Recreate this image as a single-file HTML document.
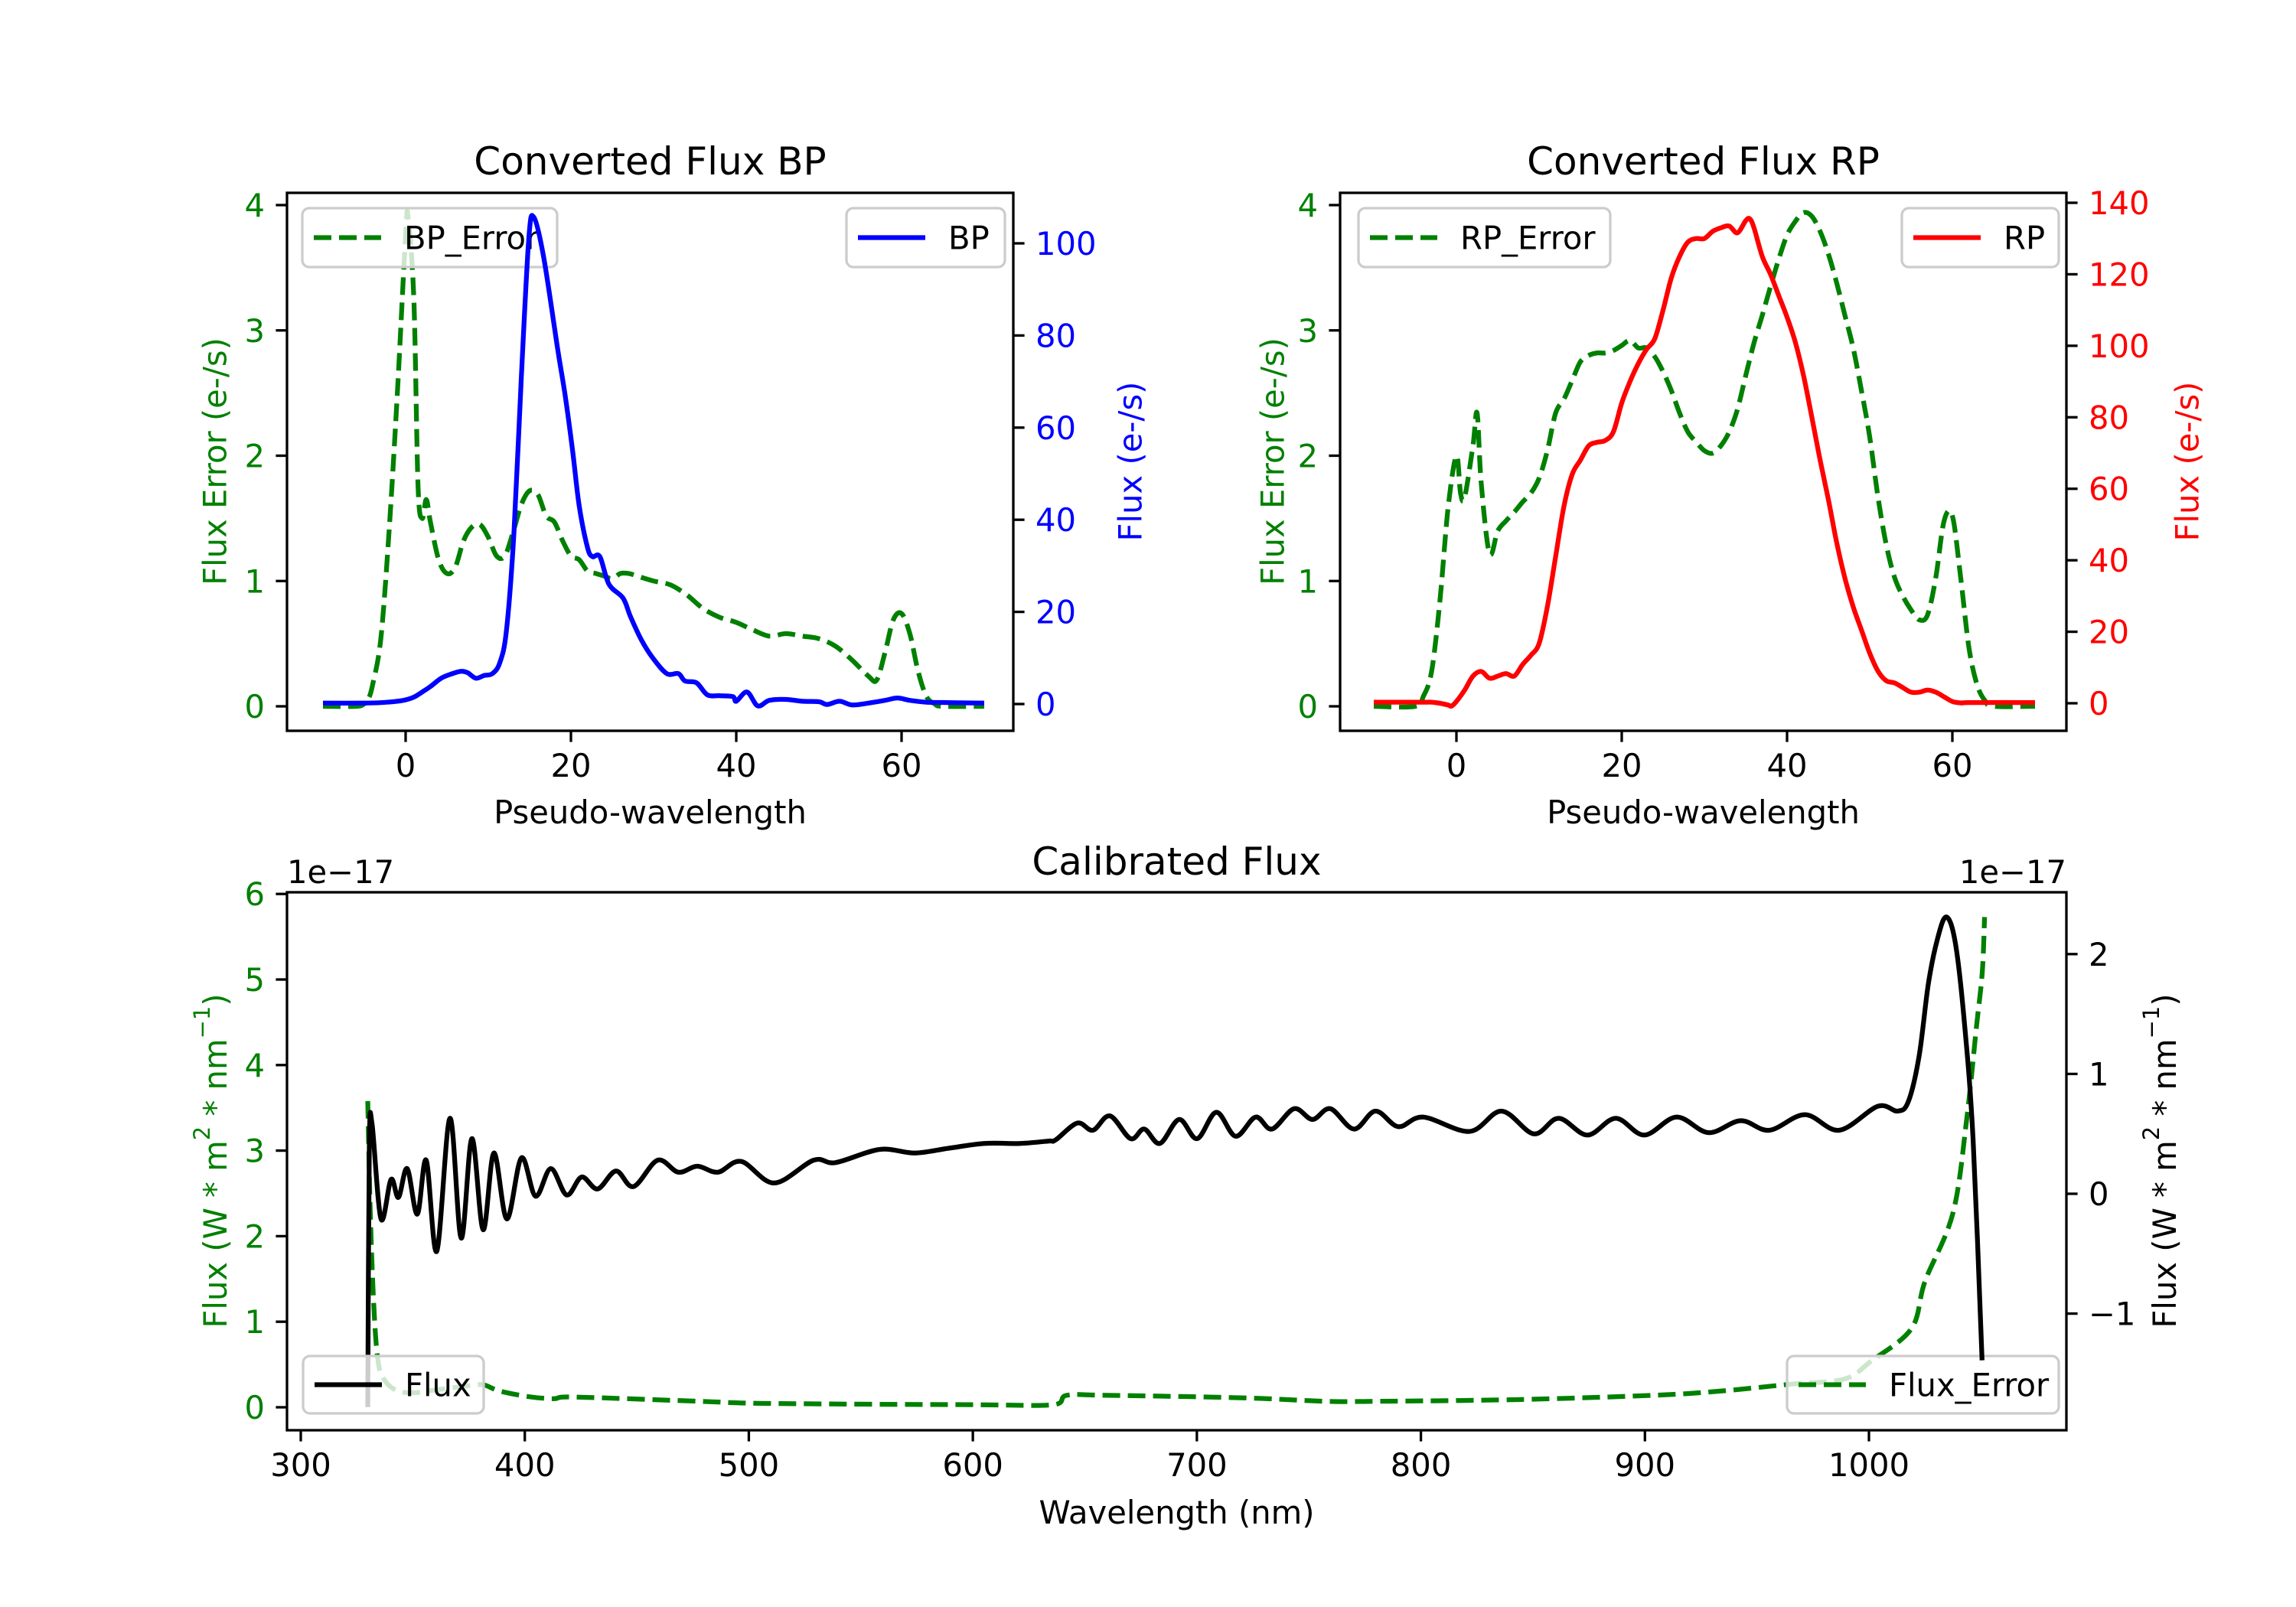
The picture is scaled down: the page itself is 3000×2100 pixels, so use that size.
<!DOCTYPE html>
<html><head><meta charset="utf-8"><title>Converted and Calibrated Flux</title>
<style>
html,body{margin:0;padding:0;background:#fff;}
svg{display:block;font-family:"DejaVu Sans","Liberation Sans",sans-serif;}
</style></head>
<body>
<svg id="fig" xmlns="http://www.w3.org/2000/svg" width="3000" height="2100" viewBox="0 0 3000 2100">
<rect width="3000" height="2100" fill="#fff"/>
</svg>
<script>
// ---------- data ----------
const bpFluxX = [-10,-5,-3,-1,0,1,2,3,4.3,5.5,6.7,7.5,8.5,9.5,10.5,11.4,12.2,13.1,14,14.9,15.5,16.7,18.4,19.3,20.2,21,22,22.6,23.5,24.6,26.3,27.2,28.5,29.9,31.6,33,33.8,35.2,36.5,38,39.6,40,41.3,42.6,44,46,48,50,51,52.5,54,56,58,59.5,61,63,66,70];
const bpFluxY = [0.2,0.2,0.3,0.6,0.9,1.5,2.6,3.8,5.6,6.5,7.1,6.8,5.6,6.2,6.6,9,16,37,71,101,105.7,97,77,67,55,43,34,32,32,26,23,19,14,10,6.6,6.6,5,4.6,2,1.8,1.6,0.6,2.6,-0.4,0.8,1,0.6,0.5,-0.1,0.6,-0.2,0.2,0.8,1.3,0.8,0.4,0.3,0.2];
const bpErrX = [-10,-6,-5,-4.5,-4,-3,-2,-1,0,0.3,1,1.5,2,2.5,3,4,5,6,7,8,9,10,11,12,13,14,15,16,17,18,19,20,21,22,23,24,25,26,27,28,30,32,34,36,38,40,42,44,46,48,50,52,54,56,57,58,59,60,61,62,63,64,65,70];
const bpErrY = [0,0,0.02,0.06,0.17,0.54,1.4,2.5,3.76,3.9,3.24,1.76,1.5,1.65,1.47,1.17,1.06,1.11,1.32,1.43,1.45,1.35,1.2,1.2,1.39,1.61,1.72,1.69,1.52,1.47,1.32,1.2,1.17,1.08,1.06,1.04,1.02,1.06,1.06,1.04,1.0,0.97,0.89,0.78,0.71,0.67,0.61,0.56,0.58,0.56,0.54,0.48,0.37,0.24,0.21,0.43,0.69,0.74,0.58,0.28,0.08,0.02,0,0];
const rpFluxX = [-10,-4,-3,-2,-1,-0.6,0,1,2,3,4,5,6,7,8,9,10,11,12,13,14,15,16,17,18,19,20,21,22,23,24,25,26,27,28,29,30,31,32,33,34,35,35.5,36,37,38,39,40,41,42,43,44,45,46,47,48,49,50,51,52,53,54,55,56,57,58,59,60,61,62,70];
const rpFluxY = [0.3,0.3,0.3,0,-0.5,-0.8,0.5,3.7,7.6,8.9,7,7.6,8.3,7.6,10.8,13.4,16.7,27,41,55,64,68,72,73,73.5,76,84,90,95,99,102,110,119,125,129,130,130,132,133,133.5,131.6,135,135.5,133,125,120,114,108,101,91.6,80,68,57,45,35,27,20.5,14,9,6.3,5.7,4.4,3.1,3.1,3.7,3.1,1.8,0.5,0.1,0.2,0.2];
const rpErrX = [-10,-5,-4,-3,-2,-1,0,0.5,1,2,2.5,3,4,5,6,7,8,9,10,11,12,13,14,15,16,17,18,19,20,21,22,23,24,25,26,27,28,29,30,31,32,33,34,35,36,37,38,39,40,41,42,43,44,45,46,47,48,49,50,51,52,53,54,55,56,57,58,59,60,61,62,63,64,65,70];
const rpErrY = [0,0,0.08,0.28,0.84,1.59,2.0,1.7,1.67,2.08,2.34,1.78,1.22,1.4,1.48,1.55,1.63,1.7,1.82,2.04,2.34,2.45,2.6,2.75,2.8,2.82,2.82,2.84,2.88,2.92,2.86,2.86,2.79,2.67,2.52,2.34,2.19,2.11,2.04,2.02,2.08,2.19,2.37,2.64,2.9,3.12,3.35,3.57,3.76,3.87,3.94,3.91,3.79,3.61,3.38,3.12,2.86,2.52,2.15,1.67,1.29,1.03,0.88,0.77,0.69,0.73,1.03,1.48,1.52,1.03,0.47,0.17,0.04,0,0];
const calWave = [329.9,330.6,331.8,335.8,340.3,343.6,347.5,352.0,356.0,360.7,366.6,371.6,376.4,381.4,386.2,392.0,398.5,404.8,411.6,418.7,425.4,432.5,440.7,448.5,459.3,468.5,477.0,486.2,496.6,511.3,528.9,538.7,558.4,574.1,589.2,605.2,621.1,633.8,637,646.6,653.6,661.2,670.4,676.5,683.5,692.1,700.1,708.7,717.3,726.2,733.5,743.4,751.6,759.6,770.1,779.7,789.9,801.0,821.7,836.0,850.4,861.5,874.3,887.0,899.7,914.1,928.4,942.7,955.5,971.4,986.7,1003.9,1012.8,1017.6,1022.4,1026.5,1030.5,1034.5,1038.5,1042.5,1046.5,1050.5];
const calFlux = [-1.78,0.40,0.585,-0.21,0.12,-0.03,0.21,-0.17,0.28,-0.48,0.63,-0.37,0.46,-0.30,0.34,-0.21,0.30,-0.02,0.21,-0.01,0.14,0.04,0.19,0.06,0.28,0.18,0.23,0.18,0.27,0.09,0.28,0.26,0.37,0.34,0.38,0.42,0.42,0.44,0.45,0.59,0.53,0.65,0.46,0.54,0.42,0.62,0.46,0.68,0.48,0.64,0.54,0.71,0.62,0.71,0.54,0.69,0.56,0.64,0.52,0.69,0.50,0.63,0.49,0.63,0.49,0.64,0.51,0.61,0.53,0.66,0.53,0.73,0.69,0.77,1.15,1.75,2.12,2.31,2.1,1.45,0.45,-1.39];
const errWave = [329.9,331.0,332.5,334.2,336.6,342.4,350.2,359.4,368.3,377.6,382,388.8,401.5,412.7,421,478,508,599,636,642,660,721,757,782,843,904,934,965,989,1001,1019,1025,1037.5,1043.6,1048,1050.6,1051.6];
const errFlux = [3.58,2.3,1.24,0.60,0.35,0.20,0.17,0.20,0.23,0.26,0.26,0.19,0.125,0.10,0.12,0.07,0.045,0.03,0.03,0.14,0.14,0.11,0.07,0.07,0.09,0.14,0.19,0.27,0.33,0.54,0.92,1.47,2.27,3.36,4.45,5.09,5.73];
const bpXTicks = [0,20,40,60];
const errYTicks = [0,1,2,3,4];
const bpYTicks = [0,20,40,60,80,100];
const rpYTicks = [0,20,40,60,80,100,120,140];
const calXTicks = [300,400,500,600,700,800,900,1000];
const calLeftTicks = [0,1,2,3,4,5,6];
const calRightTicks = [-1,0,1,2];

// ---------- helpers ----------
const NS = 'http://www.w3.org/2000/svg';
const svg = document.getElementById('fig');
function mk(tag, attrs, parent) {
  const e = document.createElementNS(NS, tag);
  for (const k in attrs) e.setAttribute(k, attrs[k]);
  (parent || svg).appendChild(e);
  return e;
}
function lin(d0, d1, p0, p1) { return v => p0 + (v - d0) * (p1 - p0) / (d1 - d0); }
function spline(xs, ys, sx, sy) {
  const P = xs.map((x, i) => [sx(x), sy(ys[i])]);
  let d = 'M' + P[0][0].toFixed(2) + ',' + P[0][1].toFixed(2);
  for (let i = 0; i < P.length - 1; i++) {
    const p0 = P[Math.max(0, i - 1)], p1 = P[i], p2 = P[i + 1], p3 = P[Math.min(P.length - 1, i + 2)];
    const t = 1 / 6;
    const c1 = [p1[0] + (p2[0] - p0[0]) * t, p1[1] + (p2[1] - p0[1]) * t];
    const c2 = [p2[0] - (p3[0] - p1[0]) * t, p2[1] - (p3[1] - p1[1]) * t];
    c1[0] = Math.min(Math.max(c1[0], p1[0]), p2[0]);
    c2[0] = Math.min(Math.max(c2[0], p1[0]), p2[0]);
    d += 'C' + c1[0].toFixed(2) + ',' + c1[1].toFixed(2) + ' ' + c2[0].toFixed(2) + ',' + c2[1].toFixed(2) + ' ' + p2[0].toFixed(2) + ',' + p2[1].toFixed(2);
  }
  return d;
}
const FS = 41.7;
let clipN = 0;
function clipFor(L, T, R, B) {
  const id = 'clip' + (clipN++);
  const cp = mk('clipPath', { id: id });
  mk('rect', { x: L, y: T, width: R - L, height: B - T }, cp);
  return 'url(#' + id + ')';
}
function curve(xs, ys, sx, sy, color, dashed, clip, name) {
  const p = mk('path', { d: spline(xs, ys, sx, sy), fill: 'none', stroke: color, 'stroke-width': 6.25, 'stroke-linejoin': 'round', 'clip-path': clip });
  if (dashed) p.setAttribute('stroke-dasharray', '23 10');
  
  
  return p;
}
function xTicks(ticks, sx, B, name) {
  const g = mk('g', {});
  
  
  ticks.forEach(v => {
    const x = sx(v);
    mk('line', { x1: x, y1: B, x2: x, y2: B + 14.6, stroke: '#000', 'stroke-width': 3.3 }, g);
    const t = mk('text', { x: x, y: B + 60, 'text-anchor': 'middle', 'font-size': FS, fill: '#000' }, g);
    t.textContent = String(v).replace('-', '\u2212');
  });
}
function yTicks(ticks, sy, X, side, color, name) {
  const g = mk('g', {});
  
  
  ticks.forEach(v => {
    const y = sy(v);
    const dir = side === 'left' ? -1 : 1;
    mk('line', { x1: X, y1: y, x2: X + dir * 14.6, y2: y, stroke: '#000', 'stroke-width': 3.3 }, g);
    const t = mk('text', { x: X + dir * 29, y: y + 15, 'text-anchor': side === 'left' ? 'end' : 'start', 'font-size': FS, fill: color }, g);
    t.textContent = String(v).replace('-', '\u2212');
  });
}
function frame(L, T, R, B, name) {
  const r = mk('rect', { x: L, y: T, width: R - L, height: B - T, fill: 'none', stroke: '#000', 'stroke-width': 3.3 });
  
  
}
function text(str, x, y, opts, name) {
  const t = mk('text', Object.assign({ x: x, y: y, 'font-size': FS, fill: '#000', 'text-anchor': 'middle' }, opts || {}));
  t.textContent = str;
  
  
  return t;
}
function vlabel(str, x, cy, color, name) {
  const t = mk('text', { x: 0, y: 0, transform: 'translate(' + x + ',' + cy + ') rotate(-90)', 'font-size': FS, fill: color, 'text-anchor': 'middle', 'dominant-baseline': 'central' });
  t.textContent = str;
  
  
  return t;
}
function legend(L, T, R, B, color, dashed, label, name) {
  const g = mk('g', {});
  
  
  mk('rect', { x: L, y: T, width: R - L, height: B - T, rx: 9, ry: 9, fill: 'rgba(255,255,255,0.8)', stroke: '#cccccc', 'stroke-width': 3.3 }, g);
  const cy = (T + B) / 2;
  const ln = mk('line', { x1: L + 15, y1: cy, x2: L + 103, y2: cy, stroke: color, 'stroke-width': 6.25 }, g);
  if (dashed) ln.setAttribute('stroke-dasharray', '23 10');
  const t = mk('text', { x: L + 133, y: cy + 15, 'font-size': FS, fill: '#000' }, g);
  t.textContent = label;
}
function mathLabel(x, cy, color, name) {
  const t = mk('text', { x: 0, y: 0, transform: 'translate(' + x + ',' + cy + ') rotate(-90)', 'font-size': FS, fill: color, 'text-anchor': 'middle', 'dominant-baseline': 'central' });
  
  
  const parts = [['Flux (W * m', 0], ['2', 1], [' * nm', 0], ['\u22121', 1], [')', 0]];
  parts.forEach(p => {
    const s = mk('tspan', {}, t);
    if (p[1]) { s.setAttribute('baseline-shift', 'super'); s.setAttribute('font-size', 29); }
    s.textContent = p[0];
  });
}

// ---------- BP panel ----------
(function () {
  const L = 375, R = 1324, T = 252, B = 955;
  const sx = lin(0, 60, 530, 1178);
  const sy = lin(0, 4, 923, 268);
  const sy2 = lin(0, 100, 920, 318);
  const clip = clipFor(L, T, R, B);
  curve(bpErrX, bpErrY, sx, sy, '#008000', true, clip, 'bp-error-line');
  legend(395, 272, 728, 349, '#008000', true, 'BP_Error', 'bp-error-legend');
  curve(bpFluxX, bpFluxY, sx, sy2, '#0000ff', false, clip, 'bp-flux-line');
  legend(1106, 272, 1313, 349, '#0000ff', false, 'BP', 'bp-legend');
  frame(L, T, R, B, 'bp-axes-frame');
  xTicks(bpXTicks, sx, B, 'bp-x-ticks');
  yTicks(errYTicks, sy, L, 'left', '#008000', 'bp-error-y-ticks');
  yTicks(bpYTicks, sy2, R, 'right', '#0000ff', 'bp-flux-y-ticks');
  text('Converted Flux BP', (L + R) / 2, 228, { 'font-size': 50 }, 'bp-title');
  text('Pseudo-wavelength', (L + R) / 2, 1076, {}, 'bp-x-axis-title');
  vlabel('Flux Error (e-/s)', 281, 603, '#008000', 'bp-error-y-axis-title');
  vlabel('Flux (e-/s)', 1477, 603, '#0000ff', 'bp-flux-y-axis-title');
})();

// ---------- RP panel ----------
(function () {
  const L = 1751, R = 2700, T = 252, B = 955;
  const sx = lin(0, 60, 1903, 2551);
  const sy = lin(0, 4, 923, 268);
  const sy2 = lin(0, 140, 919, 265);
  const clip = clipFor(L, T, R, B);
  curve(rpErrX, rpErrY, sx, sy, '#008000', true, clip, 'rp-error-line');
  legend(1775, 272, 2104, 349, '#008000', true, 'RP_Error', 'rp-error-legend');
  curve(rpFluxX, rpFluxY, sx, sy2, '#ff0000', false, clip, 'rp-flux-line');
  legend(2485, 272, 2690, 349, '#ff0000', false, 'RP', 'rp-legend');
  frame(L, T, R, B, 'rp-axes-frame');
  xTicks(bpXTicks, sx, B, 'rp-x-ticks');
  yTicks(errYTicks, sy, L, 'left', '#008000', 'rp-error-y-ticks');
  yTicks(rpYTicks, sy2, R, 'right', '#ff0000', 'rp-flux-y-ticks');
  text('Converted Flux RP', (L + R) / 2, 228, { 'font-size': 50 }, 'rp-title');
  text('Pseudo-wavelength', (L + R) / 2, 1076, {}, 'rp-x-axis-title');
  vlabel('Flux Error (e-/s)', 1663, 603, '#008000', 'rp-error-y-axis-title');
  vlabel('Flux (e-/s)', 2858, 603, '#ff0000', 'rp-flux-y-axis-title');
})();

// ---------- Calibrated panel ----------
(function () {
  const L = 375, R = 2700, T = 1166, B = 1869;
  const sx = lin(300, 1000, 393, 2442);
  const sy = lin(0, 1, 1839, 1727.2);
  const sy2 = lin(0, 2, 1560, 1246.8);
  const clip = clipFor(L, T, R, B);
  curve(errWave, errFlux, sx, sy, '#008000', true, clip, 'flux-error-line');
  legend(2335, 1772, 2690, 1847, '#008000', true, 'Flux_Error', 'flux-error-legend');
  curve(calWave, calFlux, sx, sy2, '#000000', false, clip, 'flux-line');
  legend(396, 1772, 632, 1847, '#000000', false, 'Flux', 'flux-legend');
  frame(L, T, R, B, 'calibrated-axes-frame');
  xTicks(calXTicks, sx, B, 'calibrated-x-ticks');
  yTicks(calLeftTicks, sy, L, 'left', '#008000', 'flux-error-y-ticks');
  yTicks(calRightTicks, sy2, R, 'right', '#000000', 'flux-y-ticks');
  text('Calibrated Flux', (L + R) / 2, 1143, { 'font-size': 50 }, 'calibrated-title');
  text('1e\u221217', L, 1154, { 'text-anchor': 'start' }, 'left-offset-label');
  text('1e\u221217', R, 1154, { 'text-anchor': 'end' }, 'right-offset-label');
  text('Wavelength (nm)', (L + R) / 2, 1991, {}, 'calibrated-x-axis-title');
  mathLabel(281, 1517, '#008000', 'flux-error-y-axis-title');
  mathLabel(2828, 1517, '#000000', 'flux-y-axis-title');
})();
</script>
</body></html>
